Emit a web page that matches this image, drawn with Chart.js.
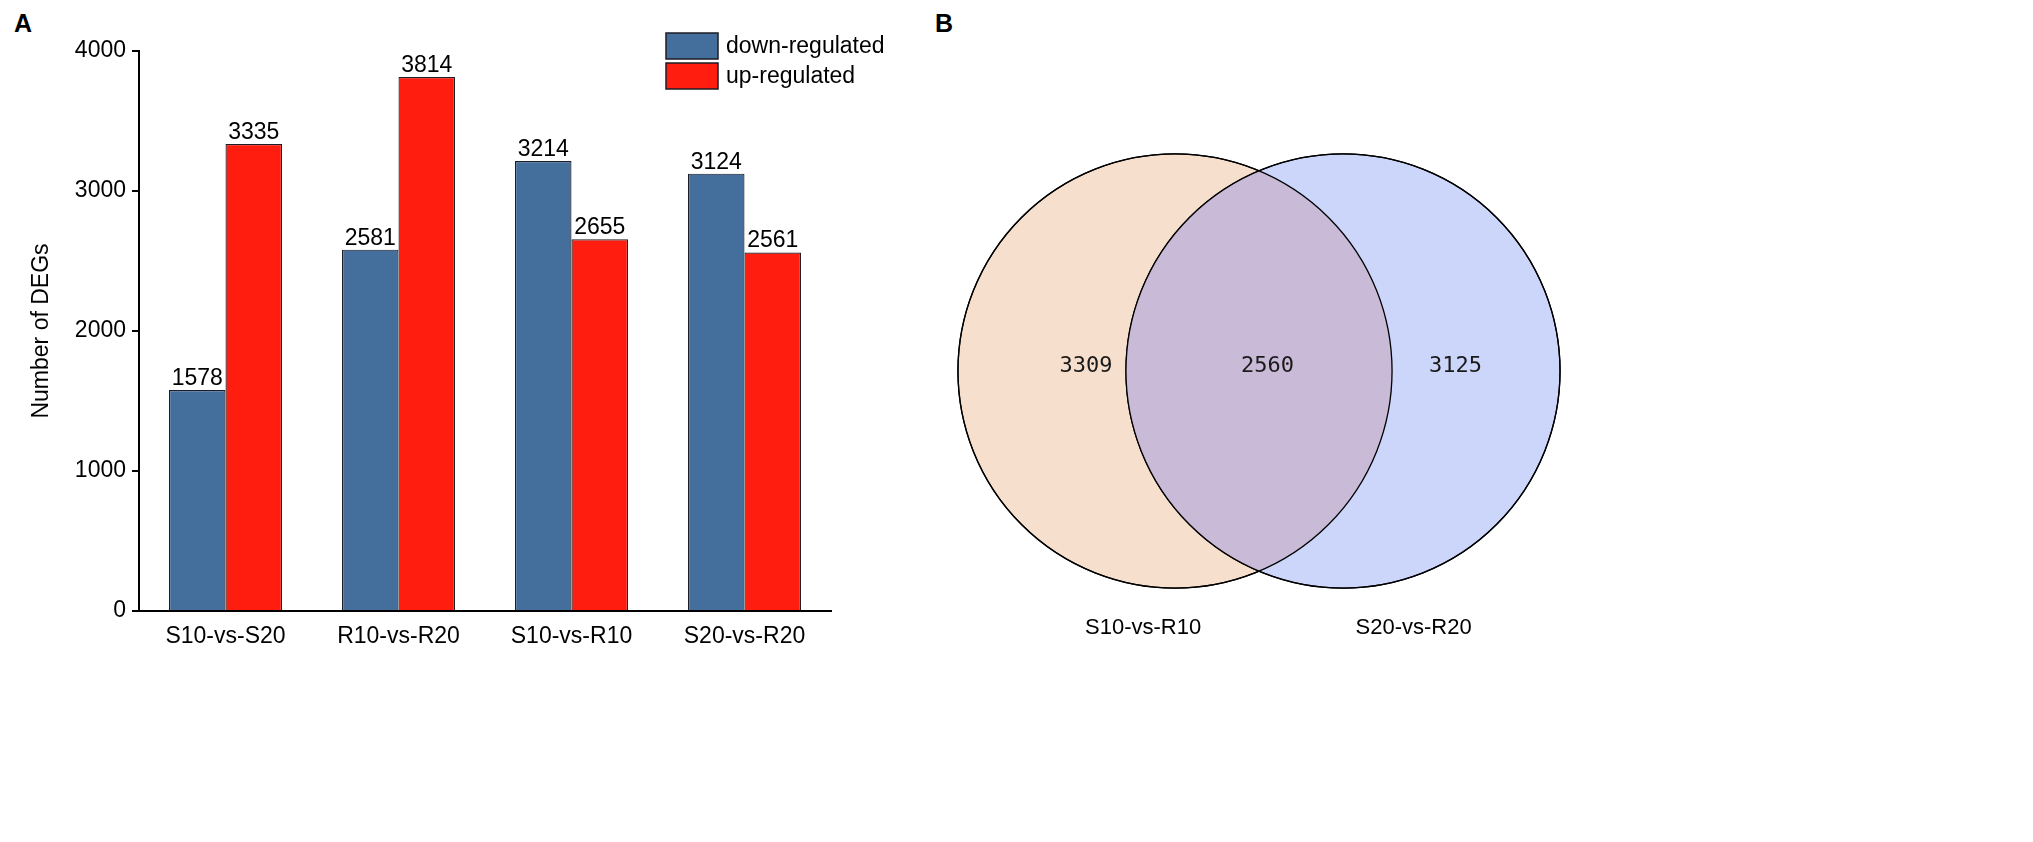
<!DOCTYPE html>
<html>
<head>
<meta charset="utf-8">
<title>DEGs</title>
<script src="https://cdn.jsdelivr.net/npm/chart.js@4.4.1/dist/chart.umd.min.js"></script>
<style>
  html, body { margin: 0; padding: 0; background: #fff; }
  body { width: 2033px; height: 842px; position: relative; overflow: hidden;
         font-family: "Liberation Sans", Arial, sans-serif; }
  canvas { position: absolute; }
  #bars { left: 0; top: 0; }
  #venn { left: 923px; top: 0; }
  .panel { position: absolute; top: 11px; font-weight: bold; font-size: 25px; line-height: 1; color: #000; }
</style>
</head>
<body>
<div class="panel" style="left:14px">A</div>
<div class="panel" style="left:935px">B</div>
<canvas id="bars" width="920" height="842"></canvas>
<canvas id="venn" width="672" height="742"></canvas>
<script>
// panel A
var categories = ['S10-vs-S20', 'R10-vs-R20', 'S10-vs-R10', 'S20-vs-R20'];
var downRegulated = [1578, 2581, 3214, 3124];
var upRegulated = [3335, 3814, 2655, 2561];
var yTicks = [0, 1000, 2000, 3000, 4000];

// panel B: only left, shared, only right
var vennSets = ['S10-vs-R10', 'S20-vs-R20'];
var vennCounts = [3309, 2560, 3125];

var FONT = '"Liberation Sans", Arial, sans-serif';
Chart.defaults.font.family = FONT;
Chart.defaults.font.size = 23;
Chart.defaults.color = '#000';

var legendBox = { left: 666, top: 33, w: 52, h: 26, gap: 4, textGap: 8 };

var barLabels = {
  id: 'barLabels',
  afterDatasetsDraw: function (chart) {
    var ctx = chart.ctx;
    ctx.save();
    ctx.font = '23px ' + FONT;
    ctx.fillStyle = '#000';
    ctx.textAlign = 'center';
    ctx.textBaseline = 'alphabetic';
    chart.data.datasets.forEach(function (ds, i) {
      chart.getDatasetMeta(i).data.forEach(function (bar, j) {
        ctx.fillText(ds.data[j], bar.x, bar.y - 5);
      });
    });
    ctx.restore();
  }
};

var boxLegend = {
  id: 'boxLegend',
  afterDraw: function (chart) {
    var ctx = chart.ctx, L = legendBox;
    ctx.save();
    ctx.font = '23px ' + FONT;
    ctx.textBaseline = 'middle';
    chart.data.datasets.forEach(function (ds, i) {
      var y = L.top + i * (L.h + L.gap);
      ctx.fillStyle = ds.backgroundColor;
      ctx.fillRect(L.left, y, L.w, L.h);
      ctx.strokeStyle = '#1c1c24';
      ctx.lineWidth = 1.5;
      ctx.strokeRect(L.left, y, L.w, L.h);
      ctx.fillStyle = '#000';
      ctx.fillText(ds.label, L.left + L.w + L.textGap, y + L.h / 2 + 1);
    });
    ctx.restore();
  }
};

new Chart(document.getElementById('bars'), {
  type: 'bar',
  data: {
    labels: categories,
    datasets: [
      { label: 'down-regulated', data: downRegulated, backgroundColor: '#446e9b',
        borderColor: '#1c1c24', borderWidth: 1.2, categoryPercentage: 0.653, barPercentage: 1 },
      { label: 'up-regulated', data: upRegulated, backgroundColor: '#ff1d10',
        borderColor: '#1c1c24', borderWidth: 1.2, categoryPercentage: 0.653, barPercentage: 1 }
    ]
  },
  options: {
    responsive: false,
    animation: false,
    events: [],
    layout: { padding: { top: 51, right: 89, bottom: 171, left: 0 } },
    plugins: { legend: { display: false }, tooltip: { enabled: false } },
    scales: {
      x: {
        grid: { display: false },
        border: { display: true, color: '#000', width: 2 },
        ticks: { padding: 4, color: '#000' },
        afterFit: function (a) { a.height = 60; }
      },
      y: {
        min: 0, max: 4000,
        afterBuildTicks: function (a) { a.ticks = yTicks.map(function (v) { return { value: v }; }); },
        grid: { drawOnChartArea: false, color: '#000', lineWidth: 2, tickLength: 7 },
        border: { display: true, color: '#000', width: 2 },
        ticks: { padding: 6, color: '#000', callback: function (v) { return String(v); } },
        title: { display: true, text: 'Number of DEGs', color: '#000', padding: { top: 28, bottom: 0 } },
        afterFit: function (a) { a.width = 139; }
      }
    }
  },
  plugins: [barLabels, boxLegend]
});

// venn layout, in x-scale units
var vennLayout = { centers: [-0.5, 0.5], radius: 1.292,
                   countX: [-1.03, 0.05, 1.17], countY: 0.03,
                   setX: [-0.69, 0.92], setY: -1.53 };
var vennColors = ['#f6dfcd', '#ccd5fa'];
var overlapColor = '#c9bbd8';

function radiusPx(chart) {
  var s = chart.scales.x;
  return Math.abs(s.getPixelForValue(vennLayout.radius) - s.getPixelForValue(0));
}

var vennOverlay = {
  id: 'vennOverlay',
  afterDatasetsDraw: function (chart) {
    var ctx = chart.ctx, pts = chart.getDatasetMeta(0).data;
    var sx = chart.scales.x, sy = chart.scales.y;
    var a = pts[0], b = pts[1];
    ctx.save();
    ctx.beginPath();
    ctx.arc(a.x, a.y, a.options.radius, 0, Math.PI * 2);
    ctx.clip();
    ctx.beginPath();
    ctx.arc(b.x, b.y, b.options.radius, 0, Math.PI * 2);
    ctx.fillStyle = overlapColor;
    ctx.fill();
    ctx.restore();

    ctx.save();
    ctx.strokeStyle = '#000';
    ctx.lineWidth = 1.3;
    pts.forEach(function (p) {
      ctx.beginPath();
      ctx.arc(p.x, p.y, p.options.radius, 0, Math.PI * 2);
      ctx.stroke();
    });

    ctx.fillStyle = '#1a1a1a';
    ctx.textAlign = 'center';
    ctx.textBaseline = 'middle';
    ctx.font = '22px "DejaVu Sans Mono", monospace';
    vennCounts.forEach(function (n, i) {
      ctx.fillText(n, sx.getPixelForValue(vennLayout.countX[i]), sy.getPixelForValue(vennLayout.countY));
    });
    ctx.fillStyle = '#000';
    ctx.font = '22px ' + FONT;
    vennSets.forEach(function (name, i) {
      ctx.fillText(name, sx.getPixelForValue(vennLayout.setX[i]), sy.getPixelForValue(vennLayout.setY));
    });
    ctx.restore();
  }
};

new Chart(document.getElementById('venn'), {
  type: 'scatter',
  data: {
    datasets: [{
      data: vennSets.map(function (s, i) { return { x: vennLayout.centers[i], y: 0 }; }),
      pointRadius: function (c) { return radiusPx(c.chart); },
      pointBackgroundColor: vennColors,
      pointBorderColor: '#000',
      pointBorderWidth: 1.3
    }]
  },
  options: {
    responsive: false,
    animation: false,
    events: [],
    layout: { padding: 0 },
    plugins: { legend: { display: false }, tooltip: { enabled: false } },
    scales: {
      x: { type: 'linear', min: -2, max: 2, display: false },
      y: { type: 'linear', min: -2.208, max: 2.208, display: false }
    }
  },
  plugins: [vennOverlay]
});
</script>
</body>
</html>
